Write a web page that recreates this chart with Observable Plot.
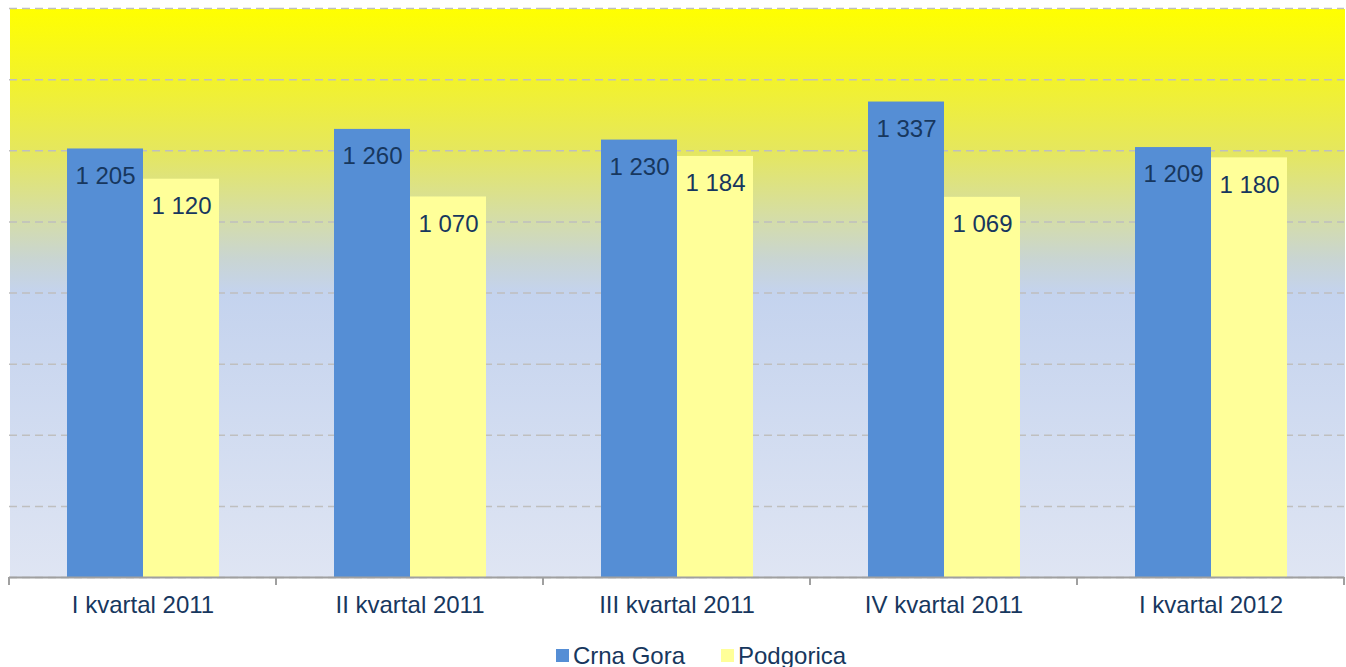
<!DOCTYPE html>
<html><head><meta charset="utf-8">
<script src="https://cdn.jsdelivr.net/npm/d3@7"></script>
<script src="https://cdn.jsdelivr.net/npm/@observablehq/plot@0.6"></script>
<style>
body{margin:0;background:#fff;font-family:"Liberation Sans",Arial,sans-serif;}
#legend{display:flex;justify-content:center;align-items:center;height:37px;padding-top:14px;padding-left:56px;box-sizing:border-box;font-size:24px;color:#17375E;}
#legend .item{display:flex;align-items:center;margin:0 18px;}
#legend .sw{width:13px;height:13px;margin-right:4px;}
</style>
</head><body><div id="chart"></div><div id="legend"></div><script>
const quarters = ["I kvartal 2011","II kvartal 2011","III kvartal 2011","IV kvartal 2011","I kvartal 2012"];
const series = ["Crna Gora","Podgorica"];
const crnaGora = [1205,1260,1230,1337,1209];
const podgorica = [1120,1070,1184,1069,1180];
const colors = ["#558ED5","#FFFF99"];
const yTicks = [0,200,400,600,800,1000,1200,1400,1600];

const data = quarters.flatMap((q,i)=>[
  {quarter:q, series:series[0], value:crnaGora[i]},
  {quarter:q, series:series[1], value:podgorica[i]}
]);
const fmt = v => d3.format(",")(v).replace(/,/g, " ");
const textColor = "#17375E";

const plot = Plot.plot({
  width: 1346, height: 630,
  marginLeft: 8, marginRight: 1, marginTop: 8, marginBottom: 53,
  style: {fontFamily: "Liberation Sans, Arial, sans-serif", fontSize: "24px", color: textColor, background: "transparent", overflow: "visible"},
  fx: {domain: quarters, padding: 0, label: null},
  x: {domain: series, paddingInner: 0, paddingOuter: 0.75, axis: null},
  y: {domain: [0,1600], axis: null},
  color: {domain: series, range: colors},
  marks: [
    Plot.frame({fill: "url(#bgGrad)", stroke: "none", shapeRendering: "crispEdges"}),
    Plot.gridY(yTicks, {stroke: "#BFBFBF", strokeOpacity: 1, strokeDasharray: "8,5", strokeWidth: 1.5}),
    Plot.barY(data, {fx: "quarter", x: "series", y: "value", fill: "series"}),
    Plot.text(data, {fx: "quarter", x: "series", y: "value", text: d => fmt(d.value), dy: 27, fill: textColor, fontSize: 24}),
    Plot.ruleY([0], {stroke: "#A0A0A0", strokeWidth: 2}),
    Plot.axisFx({anchor: "bottom", tickSize: 0, tickPadding: 18, fontSize: 24, label: null})
  ]
});

const svg = d3.select(plot);
const defs = svg.insert("defs", ":first-child");
const grad = defs.append("linearGradient").attr("id", "bgGrad").attr("x1", 0).attr("y1", 0).attr("x2", 0).attr("y2", 1);
[[0,"#FFFF00"],[0.12,"#F3F32A"],[0.25,"#E5E75E"],[0.36,"#D6DEA2"],[0.44,"#C9D5D2"],[0.5,"#C4D3EE"],[1,"#DFE5F3"]]
  .forEach(([o,c]) => grad.append("stop").attr("offset", o).attr("stop-color", c));

// category boundary ticks below the baseline
const fxs = plot.scale("fx");
const ys = plot.scale("y");
const y0 = ys.apply(0);
const bounds = quarters.map(q => fxs.apply(q)).concat([fxs.apply(quarters[quarters.length-1]) + fxs.bandwidth]);
svg.append("g").selectAll("line").data(bounds).join("line")
  .attr("x1", d => d).attr("x2", d => d).attr("y1", y0).attr("y2", y0 + 8)
  .attr("stroke", "#A0A0A0").attr("stroke-width", 2);

document.getElementById("chart").append(plot);

const legend = d3.select("#legend");
series.forEach((s,i) => {
  const it = legend.append("div").attr("class", "item");
  it.append("div").attr("class", "sw").style("background", colors[i]);
  it.append("span").text(s);
});
</script></body></html>
